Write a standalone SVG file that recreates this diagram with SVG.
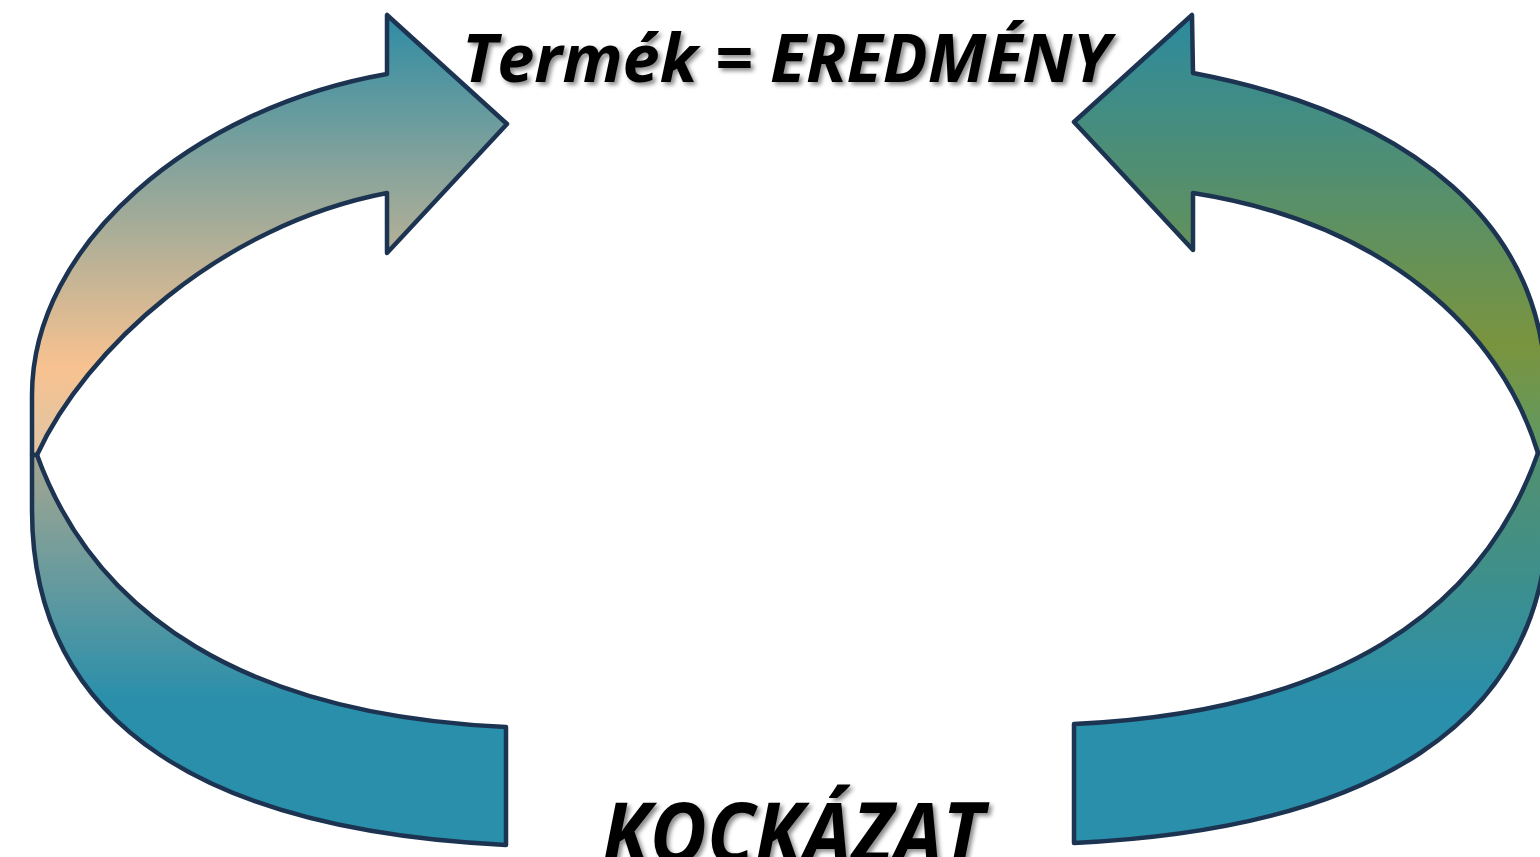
<svg xmlns="http://www.w3.org/2000/svg" width="1540" height="857" viewBox="0 0 1540 857">
  <defs>
    <linearGradient id="gLT" gradientUnits="userSpaceOnUse" x1="0" y1="15" x2="0" y2="455">
      <stop offset="0" stop-color="#2e8ca4"/>
      <stop offset="0.8" stop-color="#f8c290"/>
      <stop offset="1" stop-color="#dfc5a5"/>
    </linearGradient>
    <linearGradient id="gLB" gradientUnits="userSpaceOnUse" x1="0" y1="455" x2="0" y2="700">
      <stop offset="0" stop-color="#a4a690"/>
      <stop offset="1" stop-color="#2a8fab"/>
    </linearGradient>
    <linearGradient id="gRT" gradientUnits="userSpaceOnUse" x1="0" y1="15" x2="0" y2="455">
      <stop offset="0" stop-color="#2c8a9f"/>
      <stop offset="0.75" stop-color="#7a943e"/>
      <stop offset="1" stop-color="#5e9966"/>
    </linearGradient>
    <linearGradient id="gRB" gradientUnits="userSpaceOnUse" x1="0" y1="455" x2="0" y2="700">
      <stop offset="0" stop-color="#52906e"/>
      <stop offset="1" stop-color="#2a8fab"/>
    </linearGradient>
    <filter id="shadow" x="-10%" y="-20%" width="120%" height="150%">
      <feDropShadow dx="3" dy="3" stdDeviation="2" flood-color="#000000" flood-opacity="0.45"/>
    </filter>
  </defs>
  <style>
    .band { stroke: #1c3451; stroke-width: 4.5; stroke-linejoin: round; }
    .label { font-family: "Open Sans", "Liberation Sans", sans-serif; font-weight: bold; font-style: italic; fill: #000000; filter: url(#shadow); }
  </style>
  <rect width="1540" height="857" fill="#ffffff"/>
  <g id="connectors">
    <g id="arrow-left">
      <path class="band" fill="url(#gLT)" d="M 37 455 C 85 350, 220 225, 387 193 L 387 253 L 507 124 L 387 15 L 387 74 C 192 108, 32 245, 32 395 L 32 455 Z"/>
      <path class="band" fill="url(#gLB)" d="M 37 455 C 95 615, 245 715, 506 727 L 506 845 C 215 831, 32 730, 32 510 L 32 455 Z"/>
    </g>
    <g id="arrow-right">
      <path class="band" fill="url(#gRT)" d="M 1538 453 C 1500 328, 1383 223, 1193 193 L 1193 250 L 1074 122 L 1192 15 L 1193 73 C 1413 115, 1546 225, 1546 395 L 1546 453 Z"/>
      <path class="band" fill="url(#gRB)" d="M 1538 453 C 1482 612, 1335 712, 1074 724 L 1074 843 C 1365 829, 1548 728, 1548 510 L 1546 453 Z"/>
    </g>
  </g>
  <g id="label-top">
    <text class="label" x="462" y="82" font-size="66" textLength="648" lengthAdjust="spacingAndGlyphs">Termék = EREDMÉNY</text>
  </g>
  <g id="label-bottom">
    <text class="label" x="602" y="863" font-size="84" textLength="382" lengthAdjust="spacingAndGlyphs">KOCKÁZAT</text>
  </g>
</svg>
